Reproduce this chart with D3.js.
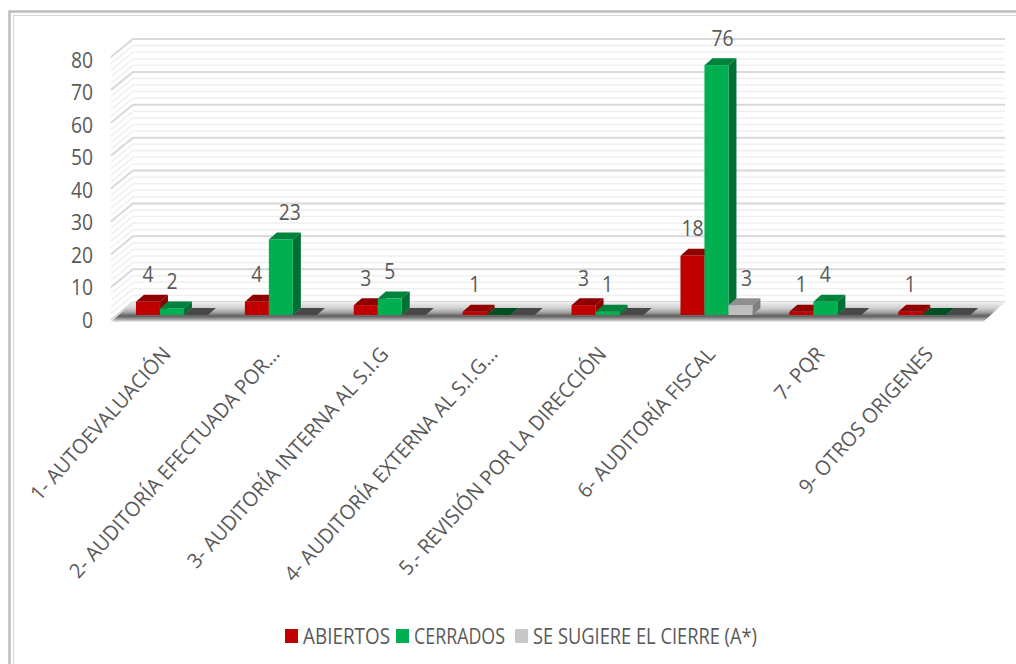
<!DOCTYPE html>
<html>
<head>
<meta charset="utf-8">
<script src="https://cdn.jsdelivr.net/npm/d3@7"></script>
<style>
  html, body { margin: 0; padding: 0; background: #fff; overflow: hidden; }
  text { font-family: "Open Sans", sans-serif; fill: #595959; }
</style>
</head>
<body>
<svg id="chart" width="1016" height="664"></svg>
<script>
// Values
const categories = [
  '1- AUTOEVALUACIÓN',
  '2- AUDITORÍA EFECTUADA POR...',
  '3- AUDITORÍA INTERNA AL S.I.G',
  '4- AUDITORÍA EXTERNA AL S.I.G...',
  '5.- REVISIÓN POR LA DIRECCIÓN',
  '6- AUDITORÍA FISCAL',
  '7- PQR',
  '9- OTROS ORIGENES',
];
const seriesNames = ['ABIERTOS', 'CERRADOS', 'SE SUGIERE EL CIERRE (A*)'];
const abiertos = [4, 4, 3, 1, 3, 18, 1, 1];
const cerrados = [2, 23, 5, 0, 1, 76, 4, 0];
const sugiere = [0, 0, 0, 0, 0, 3, 0, 0];
const seriesValues = [abiertos, cerrados, sugiere];
const yTicks = [0, 10, 20, 30, 40, 50, 60, 70, 80];
const minorTicks = d3.range(0, 81, 2);

// front, top, side and "empty bar" colours per series
const palette = [
  { front: '#c00000', top: '#8f0000', side: '#8f0000', empty: '#8f0000', key: '#c00000' },
  { front: '#00b050', top: '#00843c', side: '#006f33', empty: '#004f24', key: '#00b050' },
  { front: '#bfbfbf', top: '#8f8f8f', side: '#7f7f7f', empty: '#484848', key: '#c8c8c8' },
];

const svg = d3.select('#chart');

// Plane the bars stand on
const y = d3.scaleLinear().domain([0, 80]).range([315, 52]);
const x = d3.scaleBand().domain(categories).range([117, 988.2]);
const groupWidth = 72;
const inner = d3.scaleBand().domain(d3.range(3)).range([0, groupWidth]);
const groupStart = (c) => x(c) + (x.bandwidth() - groupWidth) / 2 + 0.5;

// Tick labels are spaced a little tighter than the bars
const tickY = d3.scaleLinear().domain([0, 80]).range([320, 60]);

// Wall plane, and how far the box goes back
const wallY = (v) => y(v) + 5;
const frontLeft = 111, frontRight = 983, depthX = 22, depthY = 18;
// Depth of a bar
const barDx = 8, barDy = 7;
// Open Sans is wider than the original font, so squeeze it
const squeeze = 0.92;

// Frame around the picture
svg.append('rect').attr('x', 9.5).attr('y', 11.5).attr('width', 1040).attr('height', 700)
  .attr('fill', 'none').attr('stroke', '#bdbdbd').attr('stroke-width', 2.5);
svg.append('rect').attr('x', 13.5).attr('y', 15.5).attr('width', 1040).attr('height', 700)
  .attr('fill', 'none').attr('stroke', '#d6d6d6').attr('stroke-width', 1);

const shade = svg.append('defs').append('linearGradient').attr('id', 'floorShade')
  .attr('x1', 0).attr('y1', 0).attr('x2', 0).attr('y2', 1);
[[0, '#f0f0f0'], [0.3, '#d0d0d0'], [0.5, '#a8a8a8'], [0.7, '#5e5e5e'], [0.85, '#9a9a9a'], [1, '#f0f0f0']]
  .forEach(([o, c]) => shade.append('stop').attr('offset', o).attr('stop-color', c));

// Gridlines, back wall and side wall
const grid = svg.append('g');
function drawGrid(ticks, color, width) {
  grid.selectAll(null).data(ticks).join('path')
    .attr('fill', 'none')
    .attr('stroke', color)
    .attr('stroke-width', width)
    .attr('d', (d) => {
      const yFront = wallY(d);
      const yBack = yFront - depthY;
      return `M${frontLeft},${yFront}L${frontLeft + depthX},${yBack}L${frontRight + depthX},${yBack}`;
    });
}
drawGrid(minorTicks, '#f0f0f0', 1.5);
drawGrid(yTicks, '#d9d9d9', 2);

// Floor
const floorY = wallY(0);
svg.append('path')
  .attr('d', `M${frontLeft},${floorY + 2}L${frontLeft + depthX},${floorY - depthY}L${frontRight + depthX},${floorY - depthY}L${frontRight},${floorY + 2}Z`)
  .attr('fill', 'url(#floorShade)');

// Bars
seriesValues.forEach((values, s) => {
  const colors = palette[s];
  const w = inner.bandwidth();
  const left = (i) => groupStart(categories[i]) + inner(s);
  const g = svg.append('g').selectAll('g').data(values).join('g');

  g.append('path') // top
    .attr('fill', (d) => (d === 0 ? colors.empty : colors.top))
    .attr('d', (d, i) => {
      const a = left(i), t = y(d);
      return `M${a},${t}L${a + barDx},${t - barDy}L${a + w + barDx},${t - barDy}L${a + w},${t}Z`;
    });
  g.append('path') // side
    .attr('fill', colors.side)
    .attr('d', (d, i) => {
      if (d === 0) return null;
      const a = left(i) + w, t = y(d), b = y(0);
      return `M${a},${t}L${a + barDx},${t - barDy}L${a + barDx},${b - barDy}L${a},${b}Z`;
    });
  g.append('rect') // front
    .attr('x', (d, i) => left(i))
    .attr('y', (d) => y(d))
    .attr('width', w)
    .attr('height', (d) => y(0) - y(d))
    .attr('fill', colors.front);
});

// Data labels; a few sit off-centre in the original
const labelNudge = { '1,1': 9, '1,5': 6, '2,5': 6 };
seriesValues.forEach((values, s) => {
  values.forEach((d, i) => {
    if (d === 0) return;
    const centred = groupStart(categories[i]) + inner(s) + inner.bandwidth() / 2;
    const dx = labelNudge[`${s},${i}`] ?? 0;
    svg.append('text')
      .attr('transform', `translate(${centred + dx},${y(d) - 27}) scale(${squeeze},1)`)
      .attr('dy', '0.36em')
      .attr('text-anchor', 'middle')
      .attr('font-size', 21)
      .text(d);
  });
});

// Y axis labels
svg.append('g').selectAll('text').data(yTicks).join('text')
  .attr('transform', (d) => `translate(93,${tickY(d)}) scale(${squeeze},1)`)
  .attr('dy', '0.36em')
  .attr('text-anchor', 'end')
  .attr('font-size', 21)
  .text((d) => d);

// Category labels
svg.append('g').selectAll('text').data(categories).join('text')
  .attr('text-anchor', 'end')
  .attr('font-size', 20.5)
  .attr('transform', (d) => `translate(${x(d) + x.bandwidth() / 2 - 5},350) rotate(-48) scale(0.97,1)`)
  .attr('dy', '0.36em')
  .text((d) => d);

// Legend
const legendX = [285, 396, 515];
const legendTextEnd = [390, 505, 757];
const legend = svg.append('g').selectAll('g').data(seriesNames).join('g')
  .attr('transform', (d, i) => `translate(${legendX[i]},0)`);
legend.append('rect')
  .attr('y', 629).attr('width', 13).attr('height', 14)
  .attr('fill', (d, i) => palette[i].key);
legend.append('text')
  .attr('x', 18).attr('y', 636).attr('dy', '0.36em')
  .attr('font-size', 21)
  .attr('textLength', (d, i) => legendTextEnd[i] - legendX[i] - 18)
  .attr('lengthAdjust', 'spacingAndGlyphs')
  .text((d) => d);
</script>
</body>
</html>
